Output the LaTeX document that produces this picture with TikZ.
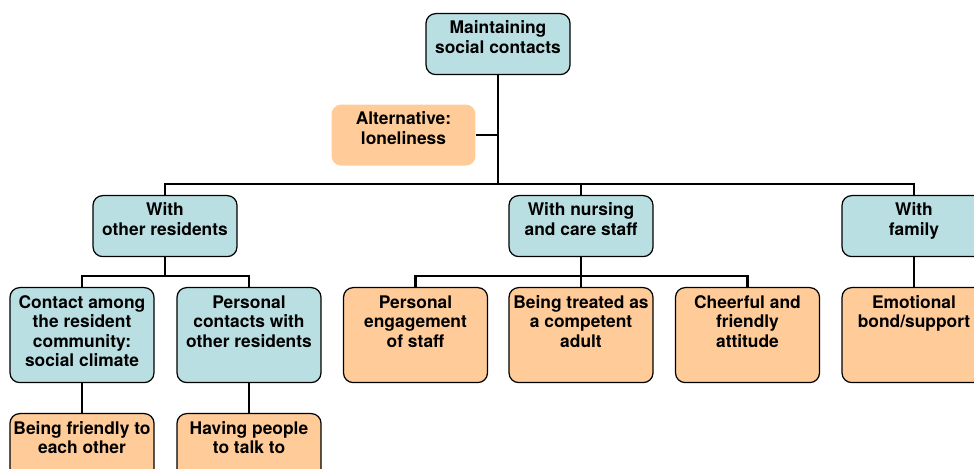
\documentclass[tikz,border=0pt]{standalone}
\usepackage{fontspec}
\setmainfont{TeX Gyre Heros}
\definecolor{topicblue}{RGB}{185,223,227}
\definecolor{aspectorange}{RGB}{255,204,153}
\newcommand{\shortbox}[1]{\parbox[c][1.22cm][t]{2.88cm}{\centering\rule{0pt}{11.6pt}#1}}
\newcommand{\tallbox}[1]{\parbox[c][1.9cm][t]{2.88cm}{\centering\rule{0pt}{11.8pt}#1}}

\begin{document}
\begin{tikzpicture}[x=0.02cm,y=-0.02cm]
\tikzstyle{card}=[rectangle,rounded corners=5.5pt,inner sep=0pt,anchor=north,line width=0.7pt,font=\bfseries\fontsize{9.9}{11.1}\selectfont]
\tikzstyle{topic}=[card,draw,fill=topicblue]
\tikzstyle{aspect}=[card,draw,fill=aspectorange]
\tikzstyle{link}=[line width=1.2pt]
\useasboundingbox (0,0) rectangle (974,469);
\clip (0,0) rectangle (974,469);

\node[topic] (root) at (498,13) {\shortbox{Maintaining\\social contacts}};
\node[card,fill=aspectorange] (alt) at (403.5,104) {\shortbox{Alternative:\\loneliness}};

\node[topic] (res) at (165,195) {\shortbox{With\\other residents}};
\node[topic] (care) at (581,195) {\shortbox{With nursing\\and care staff}};
\node[topic] (fam) at (914,195) {\shortbox{With\\family}};

\node[topic] (clim) at (82,287) {\tallbox{Contact among\\the resident\\community:\\social climate}};
\node[topic] (pers) at (249,287) {\tallbox{Personal\\contacts with\\other residents}};
\node[aspect] (engage) at (415.5,287) {\tallbox{Personal\\engagement\\of staff}};
\node[aspect] (treat) at (581,287) {\tallbox{Being treated as\\a competent\\adult}};
\node[aspect] (cheer) at (747.5,287) {\tallbox{Cheerful and\\friendly\\attitude}};
\node[aspect] (bond) at (914,287) {\tallbox{Emotional\\bond/support}};

\node[aspect] (friend) at (82,413) {\tallbox{Being friendly to\\each other}};
\node[aspect] (talk) at (249,413) {\tallbox{Having people\\to talk to}};

\coordinate (fork0) at (498,184);
\coordinate (fork1) at (165,276);
\coordinate (fork2) at (581,276);

\draw[link] (root.south) -- (fork0);
\draw[link] (alt.east) -- (alt.east -| root.south);
\draw[link] (res.north) |- (fork0) -| (fam.north);
\draw[link] (care.north) -- (care.north |- fork0);

\draw[link] (res.south) -- (fork1);
\draw[link] (clim.north) |- (fork1) -| (pers.north);
\draw[link] (care.south) -- (treat.north);
\draw[link] (engage.north) |- (fork2) -| (cheer.north);
\draw[link] (fam.south) -- (bond.north);

\draw[link] (clim.south) -- (friend.north);
\draw[link] (pers.south) -- (talk.north);
\end{tikzpicture}
\end{document}
